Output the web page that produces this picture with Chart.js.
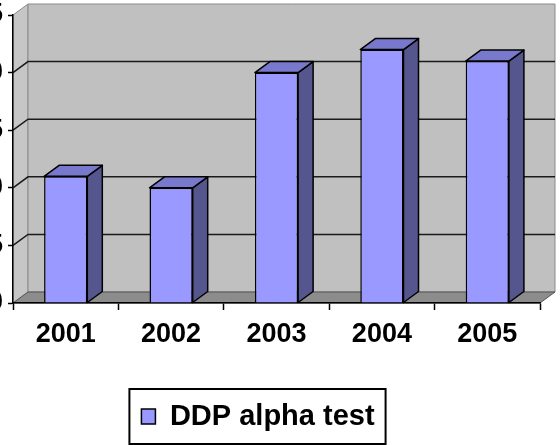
<!DOCTYPE html>
<html lang="en">
<head>
<meta charset="UTF-8">
<title>DDP alpha test</title>
<script src="https://cdn.jsdelivr.net/npm/chart.js"></script>
<style>
  html, body { margin: 0; padding: 0; background: #fff; overflow: hidden; }
  .wrap { position: relative; width: 560px; height: 445px; overflow: hidden; }
  /* the source picture is cut off on the left, so the canvas starts off-page */
  #chart { position: absolute; left: -40px; top: 0; }
</style>
</head>
<body>
<div class="wrap"><canvas id="chart" width="600" height="445"></canvas></div>
<script>
  const years = ['2001', '2002', '2003', '2004', '2005'];
  const alphaTest = [11, 10, 20, 22, 21];
  const yTicks = [0, 5, 10, 15, 20, 25];

  // oblique depth of the fake 3D box
  const DX = 15, DY = 11;
  const FONT = "'Liberation Sans', Arial, sans-serif";

  function poly(ctx, pts, fill, stroke, lw) {
    ctx.beginPath();
    ctx.moveTo(pts[0][0], pts[0][1]);
    for (let i = 1; i < pts.length; i++) ctx.lineTo(pts[i][0], pts[i][1]);
    ctx.closePath();
    if (fill) { ctx.fillStyle = fill; ctx.fill(); }
    if (stroke) { ctx.strokeStyle = stroke; ctx.lineWidth = lw || 1; ctx.stroke(); }
  }

  // walls, floor and gridlines behind everything
  const walls = {
    id: 'walls',
    beforeDraw(chart) {
      const { ctx, chartArea: a, scales: { y } } = chart;
      ctx.save();
      poly(ctx, [[a.left, a.top], [a.left + DX, a.top - DY], [a.left + DX, a.bottom - DY], [a.left, a.bottom]], '#c6c6c6', '#8a8a8a', 1);
      poly(ctx, [[a.left + DX, a.top - DY], [a.right + DX, a.top - DY], [a.right + DX, a.bottom - DY], [a.left + DX, a.bottom - DY]], '#c0c0c0', '#8a8a8a', 1);
      poly(ctx, [[a.left, a.bottom], [a.left + DX, a.bottom - DY], [a.right + DX, a.bottom - DY], [a.right, a.bottom]], '#8c8c8c', '#555', 1);
      ctx.strokeStyle = '#1a1a1a';
      ctx.lineWidth = 1.5;
      y.ticks.forEach(t => {
        if (t.value === 0 || t.value === 25) return;
        const py = y.getPixelForValue(t.value);
        ctx.beginPath();
        ctx.moveTo(a.left, py);
        ctx.lineTo(a.left + DX, py - DY);
        ctx.lineTo(a.right + DX, py - DY);
        ctx.stroke();
      });
      ctx.restore();
    }
  };

  // side and top faces of each column
  const bars3d = {
    id: 'bars3d',
    afterDatasetsDraw(chart) {
      const ctx = chart.ctx;
      ctx.save();
      ctx.lineJoin = 'round';
      chart.getDatasetMeta(0).data.forEach(bar => {
        const { x, y, base, width } = bar.getProps(['x', 'y', 'base', 'width'], true);
        const l = x - width / 2, r = x + width / 2;
        poly(ctx, [[r, y], [r + DX, y - DY], [r + DX, base - DY], [r, base]], '#56568f', '#000', 1.5);
        poly(ctx, [[l, y], [l + DX, y - DY], [r + DX, y - DY], [r, y]], '#7878cc', '#000', 1.5);
      });
      ctx.restore();
    }
  };

  // box round the legend
  const legendBox = {
    id: 'legendBox',
    afterDraw(chart) {
      const hb = chart.legend.legendHitBoxes[0];
      if (!hb) return;
      const ctx = chart.ctx;
      ctx.save();
      ctx.strokeStyle = '#000';
      ctx.lineWidth = 2;
      ctx.strokeRect(hb.left - 12, hb.top - 13, hb.width + 23, hb.height + 26);
      ctx.restore();
    }
  };

  new Chart(document.getElementById('chart'), {
    type: 'bar',
    data: {
      labels: years,
      datasets: [{
        label: 'DDP alpha test',
        data: alphaTest,
        backgroundColor: '#9999ff',
        borderColor: '#000',
        borderWidth: 1.5,
        barPercentage: 0.41,
        categoryPercentage: 1
      }]
    },
    options: {
      responsive: false,
      animation: false,
      devicePixelRatio: 1,
      layout: { padding: { left: 16, right: 20, top: 15, bottom: 4 } },
      plugins: {
        tooltip: { enabled: false },
        legend: {
          position: 'bottom',
          labels: {
            color: '#000',
            boxWidth: 14,
            boxHeight: 15,
            padding: 10,
            font: { family: FONT, size: 29, weight: 'bold' }
          }
        }
      },
      scales: {
        x: {
          grid: { offset: true, drawOnChartArea: false, tickLength: 7, tickColor: '#000', tickWidth: 1.5 },
          border: { color: '#000', width: 1.5 },
          ticks: { color: '#000', padding: 8, maxRotation: 0, autoSkip: false, font: { family: FONT, size: 27, weight: 'bold' } },
          afterFit: s => { s.height = 89; }
        },
        y: {
          min: 0,
          max: 25,
          afterBuildTicks: s => { s.ticks = yTicks.map(v => ({ value: v })); },
          grid: { drawOnChartArea: false, tickLength: 5, tickColor: '#000', tickWidth: 1.5 },
          border: { color: '#000', width: 1.5 },
          ticks: { color: '#000', padding: 5, font: { family: FONT, size: 27, weight: 'bold' } },
          afterFit: s => { s.width = 37; s.paddingTop = 0; s.paddingBottom = 0; }
        }
      }
    },
    plugins: [walls, bars3d, legendBox]
  });
</script>
</body>
</html>
